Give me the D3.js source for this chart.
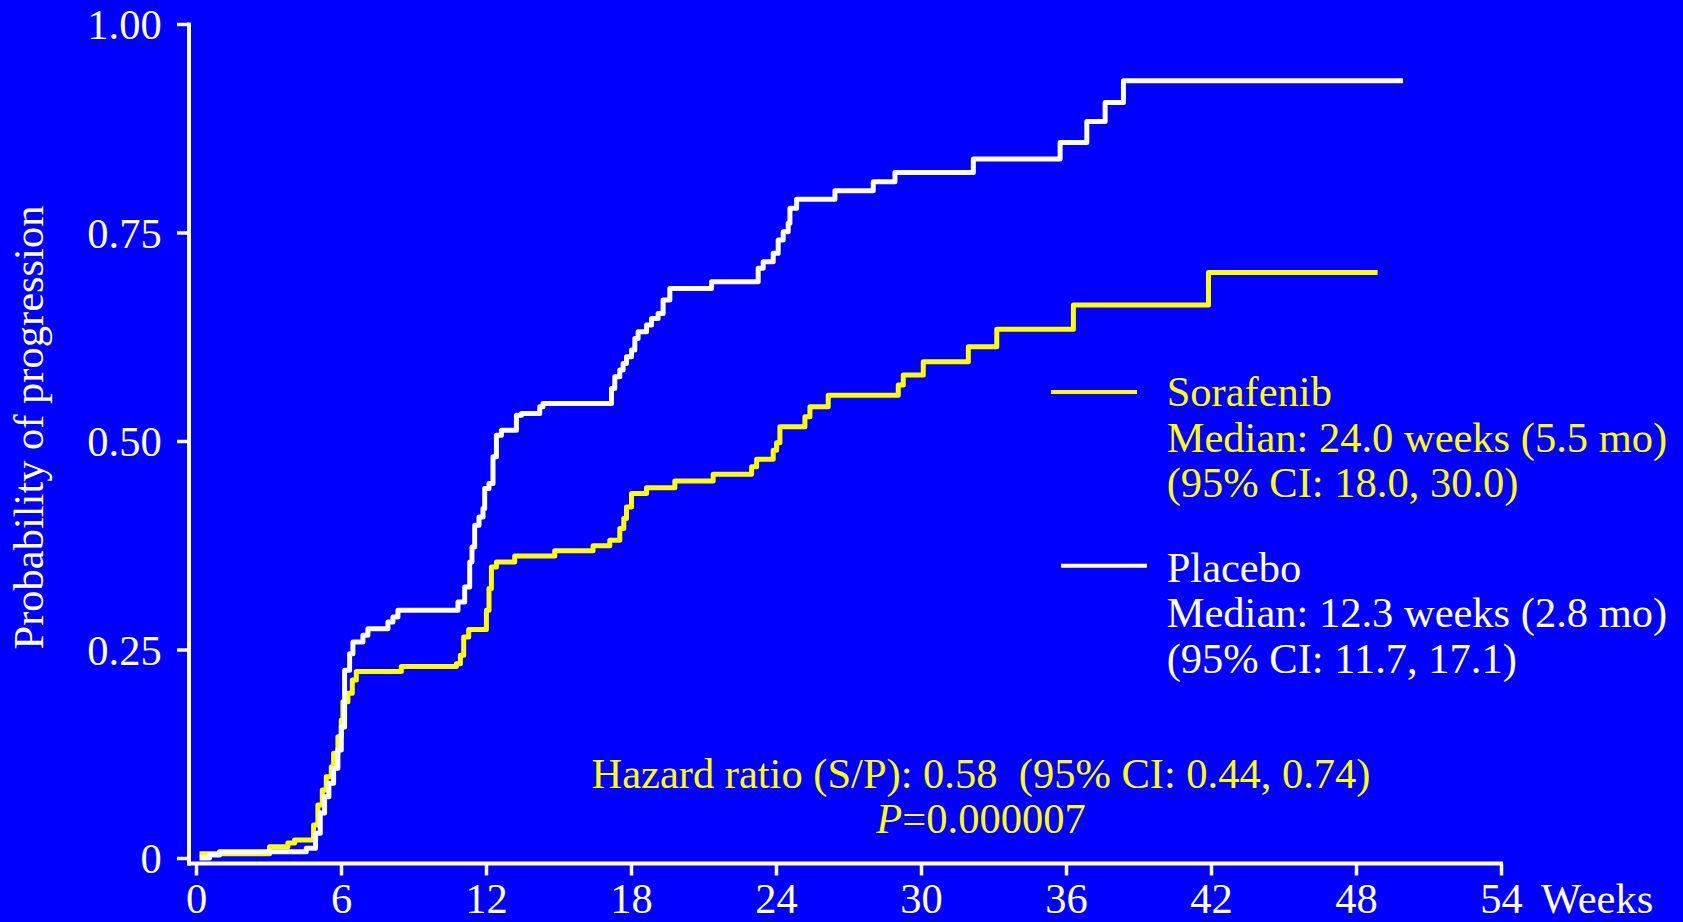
<!DOCTYPE html>
<html><head><meta charset="utf-8">
<script src="https://cdn.jsdelivr.net/npm/d3@7"></script>
<style>
html,body{margin:0;padding:0;background:#0000ff;overflow:hidden;}
svg{display:block;}
</style></head><body>
<svg id="chart" width="1683" height="922"></svg>
<script>
// ---- data ----
const xTicks = [0, 6, 12, 18, 24, 30, 36, 42, 48, 54];
const yTicks = [0, 0.25, 0.5, 0.75, 1];
const yTickLabels = ["0", "0.25", "0.50", "0.75", "1.00"];
const xUnitLabel = "Weeks";
const yTitle = "Probability of progression";

const sorafenibWeeks = [0.145, 3.043, 3.801, 4.079, 4.865, 5.043, 5.226, 5.391, 5.598, 5.694, 5.872, 6.012, 6.079, 6.286, 6.468, 6.634, 8.497, 10.774, 10.940, 11.077, 11.284, 12.017, 12.124, 12.224, 12.431, 13.188, 14.845, 16.431, 17.122, 17.536, 17.702, 17.814, 18.021, 18.642, 19.814, 21.400, 22.990, 23.197, 23.884, 24.025, 24.161, 25.197, 25.404, 26.161, 29.060, 29.267, 30.095, 31.959, 33.135, 36.306, 41.896, 48.894];
const sorafenibProb = [0.005, 0.0136, 0.018, 0.0216, 0.0396, 0.0635, 0.0815, 0.0975, 0.1095, 0.1255, 0.1455, 0.1655, 0.1875, 0.1975, 0.2135, 0.2235, 0.2295, 0.233, 0.243, 0.265, 0.274, 0.297, 0.323, 0.349, 0.355, 0.362, 0.3685, 0.3745, 0.381, 0.395, 0.407, 0.421, 0.437, 0.444, 0.452, 0.460, 0.469, 0.478, 0.489, 0.498, 0.517, 0.529, 0.541, 0.555, 0.567, 0.579, 0.595, 0.613, 0.634, 0.663, 0.702, 0.702];

const placeboWeeks = [0.145, 0.559, 0.973, 4.563, 4.948, 5.143, 5.321, 5.499, 5.694, 5.872, 6.012, 6.149, 6.356, 6.493, 6.907, 7.114, 7.942, 8.149, 8.356, 10.841, 11.118, 11.325, 11.420, 11.532, 11.710, 11.876, 11.946, 12.124, 12.290, 12.431, 12.638, 13.259, 13.466, 14.224, 14.360, 17.193, 17.329, 17.536, 17.673, 17.814, 18.021, 18.158, 18.294, 18.642, 18.849, 19.122, 19.329, 19.607, 21.333, 23.263, 23.470, 23.884, 24.091, 24.298, 24.505, 24.576, 24.853, 26.439, 28.025, 28.923, 32.166, 35.756, 36.861, 37.619, 38.377, 49.946];
const placeboProb = [0, 0.0036, 0.0076, 0.0116, 0.0296, 0.054, 0.0735, 0.0895, 0.1075, 0.1295, 0.157, 0.225, 0.245, 0.259, 0.267, 0.275, 0.283, 0.289, 0.297, 0.307, 0.325, 0.355, 0.373, 0.399, 0.409, 0.419, 0.443, 0.449, 0.481, 0.507, 0.513, 0.531, 0.533, 0.541, 0.545, 0.563, 0.577, 0.585, 0.593, 0.601, 0.609, 0.623, 0.631, 0.639, 0.647, 0.653, 0.669, 0.683, 0.691, 0.707, 0.715, 0.725, 0.741, 0.751, 0.761, 0.779, 0.790, 0.800, 0.811, 0.822, 0.838, 0.858, 0.883, 0.906, 0.932, 0.932];

const legendSorafenib = ["Sorafenib", "Median: 24.0 weeks (5.5 mo)", "(95% CI: 18.0, 30.0)"];
const legendPlacebo = ["Placebo", "Median: 12.3 weeks (2.8 mo)", "(95% CI: 11.7, 17.1)"];
const hazardText = "Hazard ratio (S/P): 0.58  (95% CI: 0.44, 0.74)";
const pLetter = "P";
const pValue = "=0.000007";

// ---- styles ----
const BG = "#0000ff", YELLOW = "#ffff00", WHITE = "#ffffff";
const FONT = '"Liberation Serif", "Times New Roman", Times, serif';
const FS = 42.5;

const svg = d3.select("#chart");
svg.append("rect").attr("width", 1683).attr("height", 922).attr("fill", BG);

const x = d3.scaleLinear().domain([0, 54]).range([196, 1501]);
const y = d3.scaleLinear().domain([0, 1]).range([858, 24]);
const xAxisY = 863.5, yAxisX = 189;
const xLabelOffset = 49.5;

// x axis
const gx = svg.append("g").attr("transform", `translate(0,${xAxisY})`)
  .call(d3.axisBottom(x).tickValues(xTicks).tickSize(12).tickSizeOuter(0).tickFormat(d3.format("d")));
gx.select(".domain").remove();
gx.append("line").attr("x1", yAxisX - 2).attr("x2", x.range()[1] + 2).attr("y1", 0).attr("y2", 0)
  .attr("stroke", WHITE).attr("stroke-width", 4);
gx.selectAll(".tick line").attr("stroke", WHITE).attr("stroke-width", 3.5);
gx.selectAll(".tick text").attr("fill", WHITE).attr("y", xLabelOffset).attr("dy", 0)
  .style("font-family", FONT).style("font-size", FS + "px");
svg.append("text").attr("x", 1541).attr("y", xAxisY + xLabelOffset).attr("fill", WHITE)
  .style("font-family", FONT).style("font-size", FS + "px").text(xUnitLabel);

// y axis
const gy = svg.append("g").attr("transform", `translate(${yAxisX},0)`)
  .call(d3.axisLeft(y).tickValues(yTicks).tickSize(12).tickSizeOuter(0).tickFormat((d, i) => yTickLabels[i]));
gy.select(".domain").remove();
gy.append("line").attr("x1", 0).attr("x2", 0).attr("y1", y.range()[1] - 1.5).attr("y2", xAxisY + 2)
  .attr("stroke", WHITE).attr("stroke-width", 4);
gy.selectAll(".tick line").attr("stroke", WHITE).attr("stroke-width", 3.5);
gy.selectAll(".tick text").attr("fill", WHITE).attr("x", -27.3).attr("dy", "0.35em")
  .style("font-family", FONT).style("font-size", FS + "px");

svg.append("text").attr("transform", `translate(43,427.5) rotate(-90)`)
  .attr("text-anchor", "middle").attr("fill", WHITE)
  .style("font-family", FONT).style("font-size", FS + "px").text(yTitle);

// curves
const line = d3.line().x(d => x(d[0])).y(d => y(d[1])).curve(d3.curveStepAfter);
const sorData = sorafenibWeeks.map((t, i) => [t, sorafenibProb[i]]);
const plaData = placeboWeeks.map((t, i) => [t, placeboProb[i]]);
svg.append("path").datum(sorData).attr("d", line).attr("fill", "none")
  .attr("stroke", YELLOW).attr("stroke-width", 5).attr("stroke-linejoin", "round");
svg.append("path").datum(plaData).attr("d", line).attr("fill", "none")
  .attr("stroke", WHITE).attr("stroke-width", 5).attr("stroke-linejoin", "round");

// legend
function legendBlock(lines, color, lx1, lx2, ly, tx, baselines) {
  svg.append("line").attr("x1", lx1).attr("x2", lx2).attr("y1", ly).attr("y2", ly)
    .attr("stroke", color).attr("stroke-width", 4);
  lines.forEach((s, i) => {
    svg.append("text").attr("x", tx).attr("y", baselines[i]).attr("fill", color)
      .style("font-family", FONT).style("font-size", FS + "px").text(s);
  });
}
legendBlock(legendSorafenib, YELLOW, 1051, 1137, 392, 1166.7, [406, 451.7, 497.3]);
legendBlock(legendPlacebo, WHITE, 1061, 1147, 565.7, 1166.7, [581.7, 627.3, 673.3]);

// hazard ratio
svg.append("text").attr("x", 981).attr("y", 788.3).attr("text-anchor", "middle").attr("fill", YELLOW)
  .style("font-family", FONT).style("font-size", FS + "px").style("white-space", "pre")
  .attr("xml:space", "preserve").text(hazardText);
const pt = svg.append("text").attr("x", 981).attr("y", 833.3).attr("text-anchor", "middle").attr("fill", YELLOW)
  .style("font-family", FONT).style("font-size", FS + "px");
pt.append("tspan").style("font-style", "italic").text(pLetter);
pt.append("tspan").text(pValue);
</script>
</body></html>
